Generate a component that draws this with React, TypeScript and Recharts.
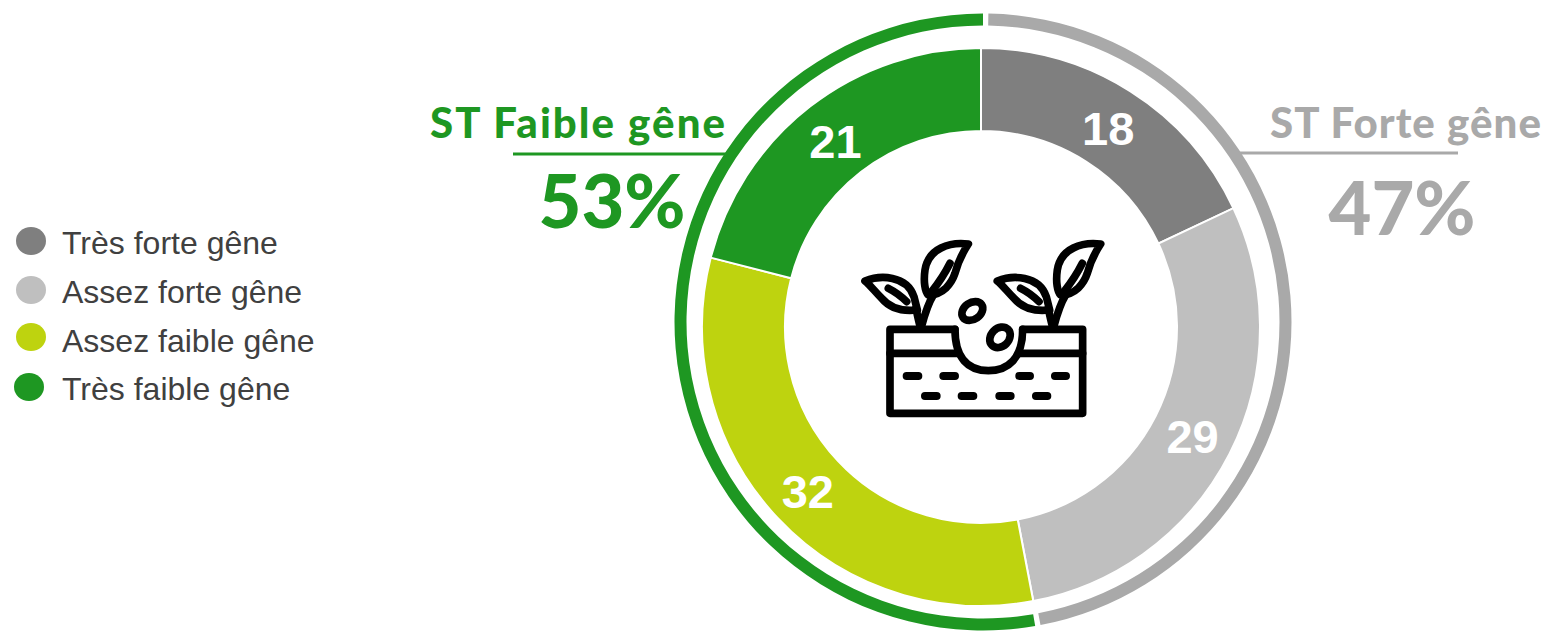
import { PieChart, Pie, Cell, Legend } from 'recharts';

const categories = ['Très forte gêne', 'Assez forte gêne', 'Assez faible gêne', 'Très faible gêne'];
const values = [18, 29, 32, 21];
const colors = ['#7f7f7f', '#bfbfbf', '#bed30f', '#1e9722'];

const groupNames = ['ST Forte gêne', 'ST Faible gêne'];
const groupValues = [47, 53];
const groupColors = ['#a9a9a9', '#1e9722'];

const RADIAN = Math.PI / 180;

// white numbers in the middle of each slice
const renderSliceLabel = ({ cx, cy, midAngle, innerRadius, outerRadius, value }: any) => {
    const r = (innerRadius + outerRadius) / 2;
    const x = cx + r * Math.cos(-midAngle * RADIAN);
    const y = cy + r * Math.sin(-midAngle * RADIAN);
    return (
        <text x={x} y={y + 2} fill="#fff" textAnchor="middle" dominantBaseline="central"
            style={{ fontFamily: 'Liberation Sans', fontWeight: 700, fontSize: 47 }}>
            {value}
        </text>
    );
};

const LegendRows = () => (
    <div style={{ position: 'relative', width: 340, height: 200 }}>
        {categories.map((name, i) => (
            <div key={name}>
                <div style={{
                    position: 'absolute', left: i === 3 ? 14 : 16, top: 7 + i * 49 - (i > 1 ? 2 : 0) + (i === 3 ? 1 : 0),
                    width: 30, height: 28, borderRadius: '50%', background: colors[i],
                }} />
                <div style={{
                    position: 'absolute', left: 62, top: 1 + i * 49 - (i === 3 ? 1 : 0), whiteSpace: 'nowrap',
                    fontFamily: 'Liberation Sans', fontSize: 32, lineHeight: '44px', color: '#404040',
                }}>
                    {name}
                </div>
            </div>
        ))}
    </div>
);

// soil and sprouts pictogram in the hole of the donut
const Sprout = () => (
    <g>
        <path d="M75,183 C120,165 200,165 222,230 L232,270 C190,275 150,265 125,235 C105,215 90,195 75,183Z" />
        <path d="M145,205 C165,215 185,230 200,245" />
        <path d="M385,72 C330,65 265,85 255,150 C250,185 255,215 265,225 C310,225 335,190 345,160 C355,120 370,95 385,72Z" />
        <path d="M330,130 C315,160 295,190 275,215" />
        <path d="M245,318 C255,280 265,250 280,225" />
        <path d="M240,318 C235,300 232,285 228,265" />
    </g>
);

const SoilIcon = () => (
    <g transform="translate(840 220) scale(0.3333)" fill="none" stroke="#000" strokeWidth={23} strokeLinecap="round" strokeLinejoin="round">
        <Sprout />
        <g transform="translate(397 0)"><Sprout /></g>
        <path d="M345,328 H150 V580 H728 V328 H548" />
        <path d="M345,328 C345,415 385,452 445,452 C505,452 548,415 548,328" />
        <path d="M150,400 H355 M540,400 H728" />
        <path d="M200,468 H235 M310,468 H345 M538,468 H570 M645,468 H678" strokeWidth={24} />
        <path d="M255,528 H290 M365,528 H400 M478,528 H512 M588,528 H622" strokeWidth={24} />
        <ellipse cx={397} cy={273} rx={34} ry={25} transform="rotate(-35 397 273)" />
        <ellipse cx={480} cy={352} rx={34} ry={27} transform="rotate(-45 480 352)" />
    </g>
);

const headingStyle = { fontFamily: 'Lato', fontWeight: 900, fontSize: 42 };
const bigStyle = { fontFamily: 'Lato', fontWeight: 900, fontSize: 74 };

export default function App() {
    return (
        <div style={{ position: 'absolute', left: 0, top: 0, width: 1547, height: 631, overflow: 'hidden', background: '#fff' }}>
            <PieChart width={1547} height={631} margin={{ top: 0, right: 0, bottom: 0, left: 0 }}>
                <Pie
                    data={groupNames.map((name, i) => ({ name, value: groupValues[i] }))}
                    dataKey="value"
                    nameKey="name"
                    cx={983}
                    cy={322}
                    innerRadius={296.5}
                    outerRadius={308.5}
                    startAngle={89}
                    endAngle={-271}
                    paddingAngle={1}
                    stroke="none"
                    isAnimationActive={false}
                >
                    {groupNames.map((name, i) => <Cell key={name} fill={groupColors[i]} />)}
                </Pie>
                <Pie
                    data={categories.map((name, i) => ({ name, value: values[i] }))}
                    dataKey="value"
                    nameKey="name"
                    cx={981}
                    cy={327}
                    innerRadius={196}
                    outerRadius={279}
                    startAngle={90}
                    endAngle={-270}
                    stroke="#fff"
                    strokeWidth={2}
                    label={renderSliceLabel}
                    labelLine={false}
                    isAnimationActive={false}
                >
                    {categories.map((name, i) => <Cell key={name} fill={colors[i]} />)}
                </Pie>
                <Legend
                    content={() => <LegendRows />}
                    layout="vertical"
                    wrapperStyle={{ position: 'absolute', left: 0, top: 220, width: 340, bottom: 'auto' }}
                />
            </PieChart>
            <svg width={1547} height={631} style={{ position: 'absolute', left: 0, top: 0, pointerEvents: 'none' }}>
                <SoilIcon />
                <text x={430} y={138} textLength={295} fill={groupColors[1]} style={headingStyle}>{groupNames[1]}</text>
                <line x1={513} x2={728} y1={154} y2={154} stroke={groupColors[1]} strokeWidth={3} />
                <text x={612} y={228} textAnchor="middle" fill={groupColors[1]} style={bigStyle}>{groupValues[1]}%</text>
                <text x={1270} y={138} textLength={271} fill={groupColors[0]} style={headingStyle}>{groupNames[0]}</text>
                <line x1={1238} x2={1458} y1={153} y2={153} stroke={groupColors[0]} strokeWidth={3} />
                <text x={1402} y={235} textAnchor="middle" fill={groupColors[0]} style={bigStyle}>{groupValues[0]}%</text>
            </svg>
        </div>
    );
}
